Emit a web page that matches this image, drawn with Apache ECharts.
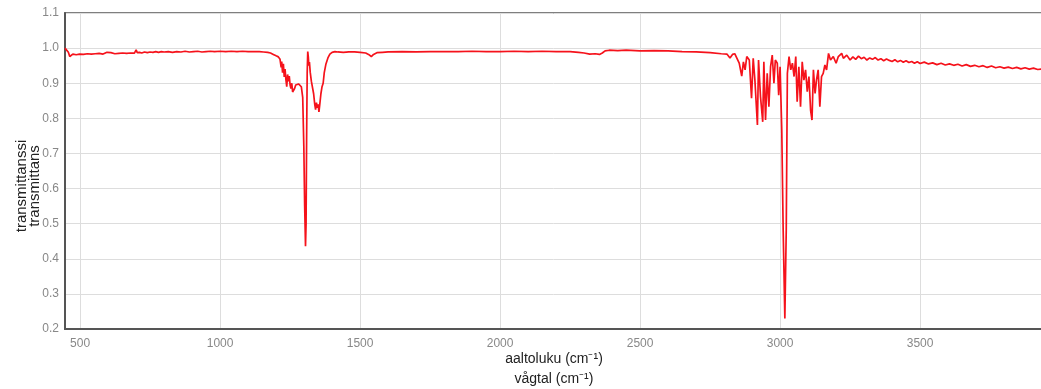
<!DOCTYPE html>
<html>
<head>
<meta charset="utf-8">
<script src="https://cdn.jsdelivr.net/npm/echarts@6/dist/echarts.min.js"></script>
<style>
html,body{margin:0;padding:0;background:#fff;}
#chart{width:1041px;height:389px;}
</style>
</head>
<body>
<div id="chart"></div>
<script>
// Axis texts
const yAxisTitle = 'transmittanssi\ntransmittans';
const xAxisTitle = 'aaltoluku (cm\u207B\u00B9)\nvågtal (cm\u207B\u00B9)';

// Spectrum segments: [wavenumber (cm-1), transmittance]
const segLow = [
  [446,1.0],[452,0.997],[458,0.988],[463,0.976],[468,0.974],[474,0.983],[480,0.986],[486,0.981],[492,0.985],[498,0.983],
  [505,0.986],[512,0.982],[519,0.985],[526,0.984],[533,0.987],[540,0.983],[547,0.986],[554,0.984],[561,0.988],[568,0.985],
  [575,0.987],[582,0.983],[589,0.986],[596,0.988],[603,0.985],[610,0.987],[617,0.989],[624,0.984],[631,0.987],[638,0.985],
  [645,0.988],[652,0.986],[659,0.989],[666,0.985],[673,0.987],[680,0.986],[687,0.988],[694,0.986],[700,0.995],[704,0.987],
  [712,0.988],[720,0.986],[730,0.989],[740,0.987],[750,0.989],[760,0.988],[770,0.99],[780,0.988],[790,0.99],[800,0.989],
  [815,0.99],[830,0.988],[845,0.99],[860,0.989],[875,0.991],[890,0.989],[905,0.99],[920,0.991],[935,0.989],[950,0.99],
  [965,0.991],[980,0.99],[1000,0.991],[1020,0.99],[1040,0.991],[1060,0.99],[1080,0.991],[1100,0.99],[1120,0.99],[1140,0.99],
  [1155,0.989],[1170,0.988]
];
const segFingerprint = [
  [1180,0.986],[1190,0.982],[1200,0.978],[1208,0.975],[1214,0.968],[1218,0.945],[1220,0.962],[1223,0.93],[1226,0.955],[1229,0.918],
  [1232,0.94],[1235,0.91],[1238,0.89],[1241,0.925],[1244,0.905],[1247,0.92],[1250,0.895],[1253,0.885],[1256,0.9],[1259,0.875],
  [1262,0.872],[1266,0.885],[1270,0.895],[1275,0.9],[1280,0.898],[1285,0.893],[1290,0.89],[1295,0.86],[1299,0.72],[1302,0.55],
  [1305,0.436],[1307,0.5],[1309,0.75],[1311,0.93],[1313,0.99],[1315,0.975],[1317,0.95],[1319,0.96],[1322,0.93],[1326,0.905],
  [1330,0.9],[1334,0.87],[1338,0.84],[1341,0.825],[1344,0.845],[1347,0.83],[1350,0.84],[1353,0.818],[1356,0.84],[1360,0.87],
  [1364,0.89],[1368,0.9],[1372,0.93],[1378,0.955],[1385,0.972],[1392,0.983],[1400,0.988],[1410,0.99],[1420,0.989]
];
const segMid = [
  [1440,0.988],[1460,0.989],[1480,0.989],[1500,0.988],[1520,0.986],[1530,0.982],[1540,0.976],[1548,0.982],[1560,0.987],[1580,0.988],
  [1600,0.989],[1650,0.99],[1700,0.989],[1750,0.99],[1800,0.99],[1850,0.99],[1900,0.991],[1950,0.99],[2000,0.99],[2050,0.991],
  [2100,0.99],[2150,0.991],[2200,0.99],[2250,0.99],[2280,0.988],[2300,0.986],[2320,0.983],[2340,0.984],[2355,0.982],[2365,0.986],
  [2375,0.992],[2390,0.994],[2420,0.993],[2450,0.994],[2500,0.992],[2550,0.993],[2600,0.992],[2650,0.99],[2700,0.989],[2750,0.987],
  [2790,0.984],[2810,0.983],[2821,0.972],[2830,0.982],[2838,0.984]
];
const segCH = [
  [2845,0.98],[2854,0.957],[2863,0.92],[2869,0.961],[2875,0.938],[2881,0.976],[2890,0.966],[2898,0.857],[2904,0.971],[2910,0.909],
  [2919,0.781],[2923,0.966],[2930,0.862],[2938,0.79],[2942,0.961],[2948,0.795],[2954,0.928],[2960,0.833],[2966,0.947],[2972,0.98],
  [2978,0.9],[2983,0.966],[2990,0.957],[2995,0.866],[3000,0.947],[3006,0.767],[3011,0.482],[3017,0.23],[3022,0.482],[3026,0.928],
  [3032,0.976],[3038,0.938],[3044,0.957],[3050,0.919],[3056,0.976],[3061,0.847],[3067,0.947],[3073,0.833],[3079,0.961],[3085,0.909],
  [3091,0.938],[3097,0.876],[3103,0.919],[3109,0.823],[3114,0.795],[3119,0.938],[3125,0.871],[3130,0.909],[3136,0.938],[3142,0.833],
  [3148,0.919],[3154,0.928],[3160,0.952],[3166,0.938],[3173,0.985],[3180,0.966],[3190,0.976],[3200,0.957],[3208,0.976],[3220,0.985],
  [3226,0.971],[3238,0.98],[3250,0.966]
];
const segTail = [
  [3260,0.975],[3270,0.968],[3280,0.977],[3290,0.97],[3300,0.974],[3310,0.966],[3320,0.972],[3330,0.968],[3340,0.973],[3350,0.966],
  [3360,0.97],[3370,0.964],[3380,0.969],[3390,0.965],[3400,0.962],[3410,0.967],[3420,0.961],[3430,0.965],[3440,0.96],[3450,0.964],
  [3460,0.959],[3470,0.962],[3480,0.957],[3490,0.961],[3500,0.956],[3515,0.96],[3530,0.955],[3545,0.958],[3560,0.953],[3575,0.957],
  [3590,0.952],[3605,0.955],[3620,0.951],[3635,0.954],[3650,0.949],[3665,0.953],[3680,0.948],[3695,0.951],[3710,0.947],[3725,0.95],
  [3740,0.945],[3755,0.949],[3770,0.944],[3785,0.947],[3800,0.943],[3815,0.946],[3830,0.942],[3845,0.945],[3860,0.941],[3875,0.944],
  [3890,0.94],[3905,0.943],[3920,0.939],[3940,0.941]
];

const spectrum = [].concat(segLow, segFingerprint, segMid, segCH, segTail);

const FONT = 'Liberation Sans, Arial, sans-serif';
const chart = echarts.init(document.getElementById('chart'), null, {renderer:'canvas'});
chart.setOption({
  animation: false,
  backgroundColor: '#ffffff',
  grid: {left: 65, right: -2, top: 13, bottom: 60, show: true, borderColor: '#555', borderWidth: 1.5,
         containLabel: false, outerBoundsMode: 'none'},
  xAxis: {
    type: 'value', min: 446, max: 3939, splitNumber: 7,
    name: xAxisTitle, nameLocation: 'middle', nameGap: 20, nameMoveOverlap: false,
    nameTextStyle: {color: '#222', fontSize: 14, lineHeight: 20, fontFamily: FONT},
    axisLine: {show: true, onZero: false, lineStyle: {color: '#555', width: 2}},
    axisTick: {show: false},
    axisLabel: {color: '#888', fontSize: 12, margin: 9, showMinLabel: false, showMaxLabel: false,
                formatter: v => String(v), fontFamily: FONT},
    splitLine: {show: true, lineStyle: {color: '#ddd', width: 1}}
  },
  yAxis: {
    type: 'value', min: 0.2, max: 1.1, interval: 0.1,
    name: yAxisTitle, nameLocation: 'middle', nameGap: 24, nameRotate: 90, nameMoveOverlap: false,
    nameTextStyle: {color: '#222', fontSize: 15, lineHeight: 13, padding: [0, 30, 0, 0], fontFamily: FONT},
    axisLine: {show: true, lineStyle: {color: '#555', width: 2}},
    axisTick: {show: false},
    axisLabel: {color: '#888', fontSize: 12, margin: 6, formatter: v => v.toFixed(1), fontFamily: FONT},
    splitLine: {show: true, lineStyle: {color: '#ddd', width: 1}}
  },
  series: [{
    type: 'line', data: spectrum, showSymbol: false, symbol: 'none',
    lineStyle: {color: '#f5121b', width: 1.7}, clip: true
  }]
});
</script>
</body>
</html>
